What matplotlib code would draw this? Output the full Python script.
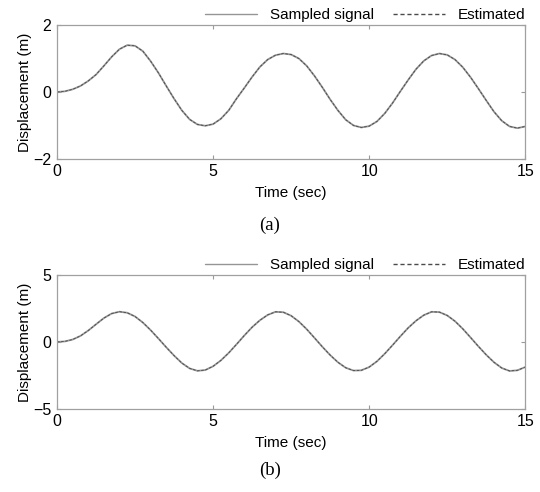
import matplotlib
matplotlib.use("Agg")
import matplotlib.pyplot as plt

plt.rcParams['font.family'] = ['Liberation Sans', 'DejaVu Sans']

time_s = [0.0, 0.25, 0.5, 0.75, 1.0, 1.25, 1.5, 1.75, 2.0, 2.25, 2.5, 2.75, 3.0, 3.25, 3.5, 3.75,
          4.0, 4.25, 4.5, 4.75, 5.0, 5.25, 5.5, 5.75, 6.0, 6.25, 6.5, 6.75, 7.0, 7.25, 7.5, 7.75,
          8.0, 8.25, 8.5, 8.75, 9.0, 9.25, 9.5, 9.75, 10.0, 10.25, 10.5, 10.75, 11.0, 11.25, 11.5, 11.75,
          12.0, 12.25, 12.5, 12.75, 13.0, 13.25, 13.5, 13.75, 14.0, 14.25, 14.5, 14.75, 15.0]

sampled_a = [0.00, 0.02, 0.08, 0.18, 0.33, 0.52, 0.78, 1.05, 1.28, 1.40, 1.38, 1.22, 0.92, 0.57, 0.18, -0.20,
             -0.55, -0.82, -0.97, -1.01, -0.96, -0.80, -0.55, -0.20, 0.12, 0.45, 0.75, 0.97, 1.10, 1.15, 1.12, 1.00,
             0.78, 0.48, 0.14, -0.22, -0.55, -0.83, -1.00, -1.06, -1.02, -0.88, -0.64, -0.33, 0.02, 0.36, 0.68, 0.93,
             1.09, 1.15, 1.11, 0.97, 0.74, 0.44, 0.10, -0.25, -0.59, -0.86, -1.03, -1.08, -1.03]
estimated_a = list(sampled_a)

sampled_b = [0.00, 0.04, 0.18, 0.45, 0.85, 1.32, 1.78, 2.12, 2.26, 2.18, 1.90, 1.45, 0.88, 0.25, -0.40, -1.02,
             -1.58, -1.98, -2.16, -2.10, -1.82, -1.38, -0.82, -0.18, 0.48, 1.10, 1.62, 2.02, 2.25, 2.22, 1.96, 1.52,
             0.95, 0.30, -0.36, -0.98, -1.52, -1.93, -2.14, -2.12, -1.88, -1.45, -0.88, -0.24, 0.42, 1.05, 1.58, 2.00,
             2.25, 2.23, 1.98, 1.55, 0.98, 0.33, -0.33, -0.96, -1.52, -1.95, -2.17, -2.12, -1.88]
estimated_b = list(sampled_b)

panels = [
    dict(sampled=sampled_a, estimated=estimated_a, ylim=(-2, 2), yticks=[-2, 0, 2], caption="(a)",
         rect=[0.1056, 0.677, 0.867, 0.272], cap_y=1 - 225 / 492),
    dict(sampled=sampled_b, estimated=estimated_b, ylim=(-5, 5), yticks=[-5, 0, 5], caption="(b)",
         rect=[0.1056, 0.169, 0.867, 0.272], cap_y=1 - 470 / 492),
]
xticks = [0, 5, 10, 15]

fig = plt.figure(figsize=(5.4, 4.92), dpi=100)
for p in panels:
    ax = fig.add_axes(p["rect"])
    ax.plot(time_s, p["sampled"], color="#959595", lw=1.3, solid_capstyle="round", label="Sampled signal")
    ax.plot(time_s, p["estimated"], color="#4a4a4a", lw=0.6, ls=(0, (3, 2)), label="Estimated")
    ax.set_xlim(0, 15)
    ax.set_ylim(*p["ylim"])
    ax.set_xticks(xticks)
    ax.set_yticks(p["yticks"])
    ax.tick_params(direction="in", length=3, width=0.8, color="#9a9a9a", top=True, right=True,
                   labelsize=11.5, pad=4)
    for s in ax.spines.values():
        s.set_color("#a0a0a0")
        s.set_linewidth(0.9)
    ax.set_xlabel("Time (sec)", fontsize=11, labelpad=5)
    ax.set_ylabel("Displacement (m)", fontsize=11, labelpad=1)
    leg = ax.legend(ncol=2, frameon=False, loc="center right", bbox_to_anchor=(1.0, 1.075),
                    fontsize=11, handlelength=3.4, columnspacing=1.3, handletextpad=0.8,
                    borderaxespad=0.0, borderpad=0.0)
    for h in leg.get_lines():
        h.set_linewidth(1.0)
    fig.text(0.5, p["cap_y"], p["caption"], ha="center", va="center", fontsize=13.5,
             family=["Liberation Serif", "DejaVu Serif"])

fig.savefig("out.png", dpi=100)
